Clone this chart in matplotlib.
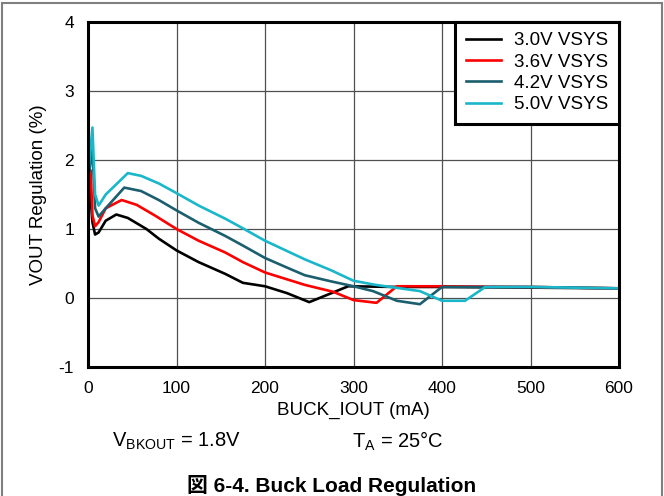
import matplotlib
matplotlib.use("Agg")
import matplotlib.pyplot as plt
from matplotlib.patches import Rectangle

plt.rcParams['font.family'] = ['Liberation Sans', 'Noto Sans CJK JP', 'DejaVu Sans']
plt.rcParams['axes.unicode_minus'] = False

# ---- data ----
x_30 = [1, 2, 5, 8, 12, 20, 32, 45, 66, 80, 100, 125, 155, 175, 200, 225, 250, 275, 294, 350, 400, 500, 600]
y_30 = [1.45, 1.6, 1.1, 0.92, 0.95, 1.12, 1.21, 1.16, 1.0, 0.86, 0.69, 0.52, 0.35, 0.22, 0.17, 0.07, -0.06, 0.07, 0.17, 0.16, 0.16, 0.15, 0.14]

x_36 = [1, 3, 5, 8, 12, 20, 38, 55, 75, 100, 125, 155, 175, 200, 225, 245, 277, 300, 326, 349, 400, 500, 600]
y_36 = [1.7, 1.85, 1.2, 1.04, 1.1, 1.3, 1.42, 1.35, 1.2, 1.0, 0.83, 0.66, 0.52, 0.37, 0.27, 0.19, 0.09, -0.03, -0.07, 0.17, 0.17, 0.16, 0.14]

x_42 = [1, 5, 8, 12, 20, 41, 60, 80, 100, 125, 155, 175, 200, 225, 245, 275, 300, 322, 349, 375, 400, 500, 600]
y_42 = [1.8, 2.15, 1.3, 1.18, 1.3, 1.6, 1.55, 1.42, 1.27, 1.09, 0.90, 0.76, 0.58, 0.44, 0.33, 0.24, 0.17, 0.10, -0.04, -0.09, 0.16, 0.16, 0.14]

x_50 = [1, 5, 8, 12, 20, 45, 60, 80, 100, 125, 155, 175, 200, 225, 245, 275, 300, 325, 375, 400, 426, 449, 500, 600]
y_50 = [1.9, 2.47, 1.5, 1.34, 1.5, 1.81, 1.77, 1.66, 1.52, 1.34, 1.15, 1.01, 0.83, 0.68, 0.56, 0.40, 0.25, 0.19, 0.10, -0.04, -0.04, 0.16, 0.16, 0.14]

labels = ['3.0V VSYS', '3.6V VSYS', '4.2V VSYS', '5.0V VSYS']
colors = ['#000000', '#ff0000', '#1b5e6e', '#1ab7ca']

x_ticks = [0, 100, 200, 300, 400, 500, 600]
y_ticks = [-1, 0, 1, 2, 3, 4]

fig = plt.figure(figsize=(6.64, 4.96), dpi=100)
ax = fig.add_axes([88/664, 1-367/496, (619-88)/664, (367-22)/496])

for xs, ys, lab, c in zip([x_30, x_36, x_42, x_50], [y_30, y_36, y_42, y_50], labels, colors):
    ax.plot(xs, ys, color=c, lw=1.9, label=lab, solid_joinstyle='round')

ax.set_xlim(0, 600)
ax.set_ylim(-1, 4)
ax.set_xticks(x_ticks)
ax.set_yticks(y_ticks)
ax.tick_params(length=0, labelsize=12.5, pad=10)
ax.grid(True, color='#505050', lw=0.9)
ax.set_axisbelow(True)
for s in ax.spines.values():
    s.set_linewidth(2.2)
    s.set_color('black')

ax.set_xlabel('BUCK_IOUT (mA)', fontsize=13.5, labelpad=4)
ax.set_ylabel('VOUT Regulation (%)', fontsize=13.5, labelpad=8)

leg = ax.legend(loc='upper right', borderaxespad=0, fancybox=False, fontsize=13.5,
                handlelength=1.9, handletextpad=0.7, labelspacing=0.22,
                borderpad=0.55, framealpha=1)
leg.get_frame().set_edgecolor('black')
leg.get_frame().set_linewidth(2.2)

fig.text(112/664, 1-441/496, r'V$_{\mathregular{BKOUT}}$ = 1.8V', fontsize=14.5, va='center', ha='left')
fig.text(352/664, 1-441/496, r'T$_{\mathregular{A}}$ = 25°C', fontsize=14.5, va='center', ha='left')
fig.text(0.5, 1-485/496, '図 6-4. Buck Load Regulation', fontsize=15, fontweight='bold',
         va='center', ha='center')

fig.patches.append(Rectangle((1.5/664, -0.1), 660/664, 1.1 - 3/496, transform=fig.transFigure,
                             fill=False, edgecolor='#7f7f7f', lw=1.5))

fig.savefig('out.png', dpi=100)
